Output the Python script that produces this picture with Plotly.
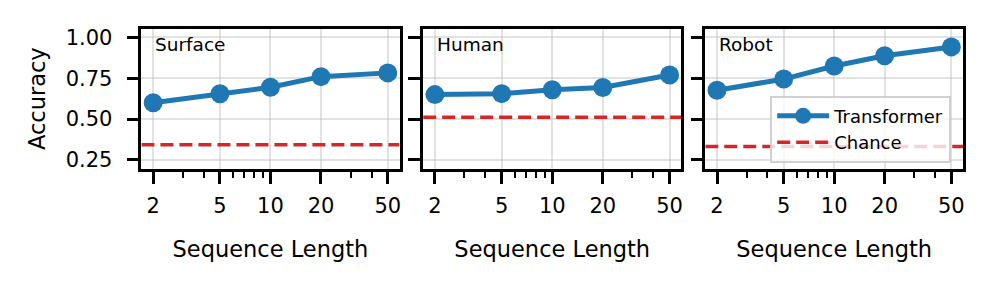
import math
import plotly.graph_objects as go

# ---- data ----
seq_len = [2, 5, 10, 20, 50]
panels = ["Surface", "Human", "Robot"]
acc_surface = [0.60, 0.655, 0.695, 0.76, 0.783]
acc_human = [0.65, 0.656, 0.68, 0.694, 0.77]
acc_robot = [0.677, 0.745, 0.825, 0.888, 0.942]
chance = [0.343, 0.512, 0.332]
x_ticks = [2, 5, 10, 20, 50]
x_tick_labels = ["2", "5", "10", "20", "50"]
x_minor = [3, 4, 6, 7, 8, 9, 30, 40]
y_ticks = [0.25, 0.50, 0.75, 1.00]
y_tick_labels = ["0.25", "0.50", "0.75", "1.00"]

series = [acc_surface, acc_human, acc_robot]

BLUE = "#1f77b4"
RED = "#d62728"
FONT = "DejaVu Sans"
OFF = 8  # page body margin
W, H = 995 - OFF, 283 - OFF

x_lo, x_hi = math.log10(2), math.log10(50)
pad = (x_hi - x_lo) * 0.05
x_range = [x_lo - pad, x_hi + pad]
y_range = [0.196, 1.054]

domains = [(141.7, 400.3), (424.0, 682.7), (706.7, 965.0)]
top_px, bot_px = 26.0, 169.3
y_dom = [1 - (bot_px - OFF) / H, 1 - (top_px - OFF) / H]

fig = go.Figure()
for i, (name, vals) in enumerate(zip(panels, series)):
    sfx = "" if i == 0 else str(i + 1)
    xa, ya = "x" + sfx, "y" + sfx
    show = i == 2
    fig.add_trace(go.Scatter(
        x=seq_len, y=vals, mode="lines+markers", name="Transformer",
        line=dict(color=BLUE, width=5), marker=dict(size=19, color=BLUE),
        xaxis=xa, yaxis=ya, showlegend=show, legendrank=1))
    fig.add_trace(go.Scatter(
        x=[10 ** x_range[0], 10 ** x_range[1]], y=[chance[i], chance[i]],
        mode="lines", name="Chance",
        line=dict(color=RED, width=3.5, dash="13px,6px"),
        xaxis=xa, yaxis=ya, showlegend=show, legendrank=2))

    axis_common = dict(
        showline=True, linecolor="black", linewidth=2.5, mirror=True,
        ticks="outside", ticklen=12, tickwidth=2.5, tickcolor="black",
        showgrid=True, gridcolor="rgba(190,190,190,0.45)", gridwidth=1.5,
        zeroline=False,
        tickfont=dict(family=FONT, size=21, color="black"),
    )
    fig.layout["xaxis" + sfx] = dict(
        axis_common, type="log", range=x_range,
        domain=[(domains[i][0] - OFF) / W, (domains[i][1] - OFF) / W], anchor=ya,
        tickmode="array", tickvals=x_ticks, ticktext=x_tick_labels,
        ticklabelstandoff=4,
        minor=dict(tickmode="array", tickvals=x_minor, ticks="outside",
                   ticklen=6, tickwidth=2, tickcolor="black", showgrid=False),
        title=dict(text="Sequence Length", font=dict(family=FONT, size=22.5, color="black"),
                   standoff=25),
    )
    fig.layout["yaxis" + sfx] = dict(
        axis_common, range=y_range, domain=y_dom, anchor=xa,
        tickmode="array", tickvals=y_ticks, ticktext=y_tick_labels,
        showticklabels=(i == 0), ticklabelstandoff=10,
        title=dict(text="Accuracy" if i == 0 else "",
                   font=dict(family=FONT, size=22.5, color="black"), standoff=14),
    )
    fig.add_annotation(
        text=name, xref=xa + " domain", yref=ya + " domain",
        x=0.045, y=0.89, xanchor="left", yanchor="middle", showarrow=False,
        font=dict(family=FONT, size=18.5, color="black"))

fig.update_layout(
    width=W, height=H, margin=dict(l=0, r=0, t=0, b=0),
    paper_bgcolor="white", plot_bgcolor="white",
    font=dict(family=FONT, color="black"),
    legend=dict(
        x=(771.7 - OFF) / W, y=1 - (94.5 - OFF) / H, xanchor="left", yanchor="top",
        bgcolor="rgba(255,255,255,0.8)", bordercolor="rgba(204,204,204,0.9)",
        borderwidth=2, font=dict(family=FONT, size=18, color="black"),
        itemwidth=52, tracegroupgap=0,
    ),
)

fig.write_html("out.html")
